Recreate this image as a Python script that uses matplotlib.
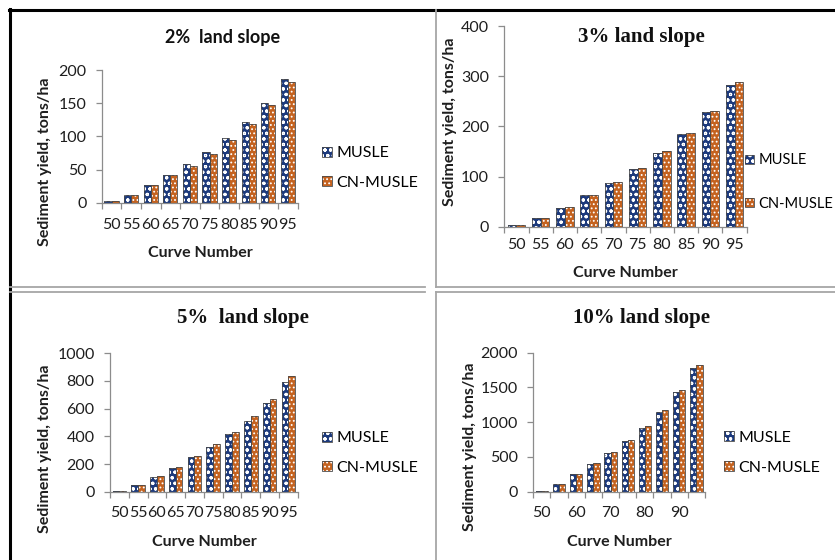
import matplotlib
matplotlib.use("Agg")
import matplotlib.pyplot as plt
from matplotlib.lines import Line2D
from matplotlib.patches import Patch
import numpy as np

# Data
curve_numbers = [50, 55, 60, 65, 70, 75, 80, 85, 90, 95]

musle_2 = [2, 12, 26, 41, 58, 76, 97, 122, 150, 187]
cn_musle_2 = [2, 12, 26, 41, 56, 74, 95, 119, 147, 182]

musle_3 = [3, 18, 38, 63, 88, 115, 146, 184, 228, 282]
cn_musle_3 = [3, 18, 40, 63, 90, 116, 151, 186, 230, 288]

musle_5 = [7, 48, 108, 173, 248, 325, 415, 513, 643, 795]
cn_musle_5 = [7, 48, 113, 181, 260, 342, 431, 545, 672, 834]

musle_10 = [15, 115, 249, 393, 556, 734, 921, 1151, 1439, 1775]
cn_musle_10 = [15, 115, 249, 408, 571, 743, 940, 1180, 1468, 1822]

W, H = 835, 560
NAVY = "#1d3a7c"
ORANGE = "#c4621f"
EDGE = "#4a4a4a"
AXIS_GRAY = "#8c8c8c"
TXT = "#1e1e1e"
SANS = "Lato"
FS = 11.5

plt.rcParams["hatch.linewidth"] = 0.8

fig = plt.figure(figsize=(W / 100, H / 100), dpi=100)


def fx(x):
    return x / W


def fy(y):
    return 1 - y / H


def page_line(x0, y0, x1, y1, color, lw):
    fig.add_artist(Line2D([fx(x0), fx(x1)], [fy(y0), fy(y1)],
                          transform=fig.transFigure, color=color, lw=lw))


# panel frames
page_line(9, 10, 835, 10, "black", 2.2)
page_line(10, 9, 10, 560, "black", 2.2)
page_line(10, 286.7, 425, 286.7, "#a6a6a6", 1.3)
page_line(10, 292.3, 425, 292.3, "#a6a6a6", 1.3)
page_line(435.7, 10, 435.7, 286.7, "#a6a6a6", 1.3)
page_line(435.7, 286.7, 835, 286.7, "#a6a6a6", 1.3)
page_line(435.7, 292.3, 835, 292.3, "#a6a6a6", 1.3)
page_line(435.7, 292.3, 435.7, 560, "#a6a6a6", 1.3)

panels = [
    dict(title="2%  land slope", tfam=SANS, tsize=13, tpos=(223, 37),
         box=(101.7, 297.7, 70, 202.7), ymax=200, ystep=50,
         musle=musle_2, cn=cn_musle_2, every=1, xpad=11,
         xlab=(200, 253), ylab=(45, 162), leg=(322, 168), lspace=0.95, lfs=FS),
    dict(title="3% land slope", tfam="Liberation Serif", tsize=15, tpos=(641.7, 37.3),
         box=(504.3, 746.7, 26, 226.7), ymax=400, ystep=100,
         musle=musle_3, cn=cn_musle_3, every=1, xpad=8,
         xlab=(625.5, 273.3), ylab=(450, 121.7), leg=(745, 182), lspace=2.0, lfs=10.5),
    dict(title="5%  land slope", tfam="Liberation Serif", tsize=15, tpos=(243.3, 318.3),
         box=(110, 297.7, 353.3, 491.7), ymax=1000, ystep=200,
         musle=musle_5, cn=cn_musle_5, every=1, xpad=10,
         xlab=(204, 541.7), ylab=(45, 448.3), leg=(322, 453), lspace=0.95, lfs=FS),
    dict(title="10% land slope", tfam="Liberation Serif", tsize=15, tpos=(641.7, 318.3),
         box=(533.3, 705, 352.7, 491.7), ymax=2000, ystep=500,
         musle=musle_10, cn=cn_musle_10, every=2, xpad=10,
         xlab=(619, 541.7), ylab=(470, 446.7), leg=(724, 453), lspace=1.0, lfs=FS),
]

x = np.arange(len(curve_numbers))
bw = 0.36

for p in panels:
    l, r, t, b = p["box"]
    ax = fig.add_axes([fx(l), fy(b), (r - l) / W, (b - t) / H])

    for vals, color, hatch, off in [(p["musle"], NAVY, "ooo", -bw / 2),
                                    (p["cn"], ORANGE, "....", bw / 2)]:
        ax.bar(x + off, vals, bw, color=color, edgecolor="white", hatch=hatch,
               linewidth=0, zorder=2)
        ax.bar(x + off, vals, bw, fill=False, edgecolor=EDGE, linewidth=0.6, zorder=3)

    ax.set_xlim(-0.5, len(x) - 0.5)
    ax.set_ylim(0, p["ymax"])
    ax.set_yticks(np.arange(0, p["ymax"] + 1, p["ystep"]))
    ax.set_xticks(x[::p["every"]])
    ax.set_xticklabels([str(c) for c in curve_numbers[::p["every"]]])
    ax.set_xticks(np.arange(-0.5, len(x), 1), minor=True)

    for s in ["top", "right"]:
        ax.spines[s].set_visible(False)
    for s in ["left", "bottom"]:
        ax.spines[s].set_color(AXIS_GRAY)
        ax.spines[s].set_linewidth(0.9)

    ax.tick_params(axis="y", direction="out", length=4, width=0.9, color=AXIS_GRAY,
                   pad=7, labelsize=FS, labelcolor=TXT)
    ax.tick_params(axis="x", which="major", length=0, pad=p["xpad"], labelsize=FS,
                   labelcolor=TXT)
    ax.tick_params(axis="x", which="minor", direction="out", length=4, width=0.9,
                   color=AXIS_GRAY)
    for lab in ax.get_xticklabels() + ax.get_yticklabels():
        lab.set_family(SANS)

    ax.set_xlabel("Curve Number", fontsize=FS, fontweight="bold", family=SANS,
                  va="center", color=TXT)
    ax.xaxis.set_label_coords(fx(p["xlab"][0]), fy(p["xlab"][1]), transform=fig.transFigure)
    ax.set_ylabel("Sediment yield, tons/ha", fontsize=FS, fontweight="bold",
                  family=SANS, va="center", color=TXT)
    ax.yaxis.set_label_coords(fx(p["ylab"][0]), fy(p["ylab"][1]), transform=fig.transFigure)

    fig.text(fx(p["tpos"][0]), fy(p["tpos"][1]), p["title"], ha="center", va="center",
             fontsize=p["tsize"], fontweight="bold", family=p["tfam"], color="#111111")

    h_musle = (Patch(facecolor=NAVY, edgecolor="white", hatch="ooo", linewidth=0),
               Patch(fill=False, edgecolor=EDGE, linewidth=0.6))
    h_cn = (Patch(facecolor=ORANGE, edgecolor="white", hatch="....", linewidth=0),
            Patch(fill=False, edgecolor=EDGE, linewidth=0.6))
    ax.legend([h_musle, h_cn], ["MUSLE", "CN-MUSLE"], loc="center left",
              bbox_to_anchor=(fx(p["leg"][0]), fy(p["leg"][1])),
              bbox_transform=fig.transFigure, frameon=False, borderpad=0,
              borderaxespad=0, handlelength=0.6, handleheight=0.6,
              handletextpad=0.3, labelspacing=p["lspace"],
              prop={"family": SANS, "size": p["lfs"]})

fig.savefig("out.png", dpi=100, facecolor="white")
